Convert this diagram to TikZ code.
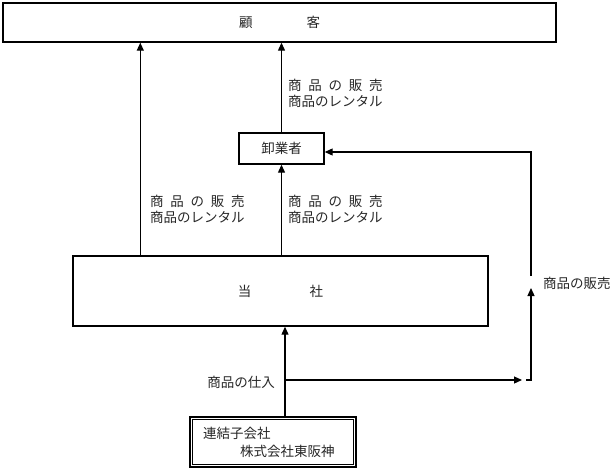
\documentclass[tikz,border=0pt]{standalone}
\usepackage{fontspec}
\newfontfamily\jp{Noto Sans CJK JP}
\usetikzlibrary{arrows.meta}
\begin{document}
\begin{tikzpicture}[x=1pt,y=-1pt,
  every node/.style={font=\jp\fontsize{13.5}{16}\selectfont, text=black!85},
  box/.style={draw=black, line width=1.4pt, inner sep=0pt},
  arr/.style={line width=1.2pt, -{Triangle[length=8pt,width=7pt]}},
  plain/.style={line width=1.2pt},
  lbl/.style={align=left, inner sep=0pt, anchor=west}]
\useasboundingbox (0,0) rectangle (613,468);
% boxes
\node[box, minimum width=553pt, minimum height=39pt] (cust) at (279.5,22.5) {顧\hspace{4em}客};
\node[box, minimum width=85pt, minimum height=31pt] (whole) at (281.5,148.5) {卸業者};
\node[box, minimum width=415pt, minimum height=70pt] (tosha) at (280.5,291) {当\hspace{4.3em}社};
\node[draw=black, line width=1.8pt, minimum width=166pt, minimum height=50pt, inner sep=0pt,
      text width=140pt, align=left, font=\jp\fontsize{13.5}{18}\selectfont] (sub) at (273,442)
      {連結子会社\\\hspace*{37pt}株式会社東阪神};
\draw[line width=0.8pt] ([shift={(3.5,3.5)}]sub.north west) rectangle ([shift={(-3.5,-3.5)}]sub.south east);
% labels
\node[lbl] (l1) at (288,93) {商\hspace{.5em}品\hspace{.5em}の\hspace{.5em}販\hspace{.5em}売\\商品のレンタル};
\node[lbl] (l2) at (150,209) {商\hspace{.5em}品\hspace{.5em}の\hspace{.5em}販\hspace{.5em}売\\商品のレンタル};
\node[lbl] (l3) at (288,209) {商\hspace{.5em}品\hspace{.5em}の\hspace{.5em}販\hspace{.5em}売\\商品のレンタル};
\node[lbl] (l4) at (543,283) {商品の販売};
\node[inner sep=0pt, anchor=east] (l5) at (275,382) {商品の仕入};
% coordinates
\coordinate (j) at (285,380);
\coordinate (h) at (522,380);
\coordinate (c) at (531,380);
\coordinate (m) at (531,288);
\coordinate (m2) at (531,276);
\coordinate (t) at (531,152);
% arrows
\draw[arr] ([xshift=68pt]tosha.north west) -- ([xshift=68pt]tosha.north west |- cust.south);
\draw[arr] (whole.north) -- (whole.north |- cust.south);
\draw[arr] (whole.south |- tosha.north) -- (whole.south);
\draw[arr] (sub.north -| j) -- (j |- tosha.south);
\draw[arr] (j) -- (h);
\draw[arr] ([xshift=4pt]h) -- (c) -- (m);
\draw[arr] (m2) -- (t) -- (whole.east |- t);
\end{tikzpicture}
\end{document}
